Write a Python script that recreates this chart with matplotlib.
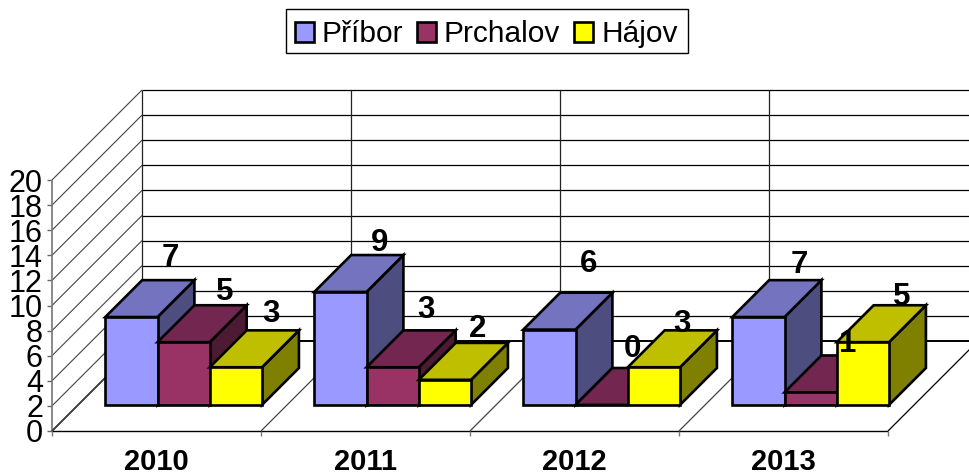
import matplotlib
matplotlib.use('Agg')
import matplotlib.pyplot as plt
from matplotlib.patches import Rectangle

plt.rcParams['font.family'] = ['Liberation Sans', 'DejaVu Sans']

years = ['2010', '2011', '2012', '2013']
pribor = [7, 9, 6, 7]
prchalov = [5, 3, 0, 1]
hajov = [3, 2, 3, 5]
series_names = ['Příbor', 'Prchalov', 'Hájov']
y_ticks = list(range(0, 21, 2))

# face colours per series: front, top, side
colors = [('#9999FF', '#7373BF', '#4D4D80'),
          ('#993366', '#732650', '#4D1A33'),
          ('#FFFF00', '#BFBF00', '#808000')]

# label nudges per series and year, on top of the default offset
nudge_x = [[1, 1, 1, 3], [3, -5, -7, -1], [-3, -5, -10, 1]]
nudge_y = [[-8, 3, -14, -1], [1, -6, -4, 3], [-2, 1, 8, 6]]

# chart geometry in pixels
X0, Y0 = 52, 431
CAT_W = 209
UNIT = 12.55
DEPTH = 90
GAP = 0.13
BAR_W = 0.25
D_FRONT, D_BACK = 0.29, 0.70


def proj(cat, value, depth=0.0):
    """Map category position, value and depth to pixel coordinates."""
    return X0 + cat * CAT_W + depth * DEPTH, Y0 - value * UNIT - depth * DEPTH


def draw_bar(ax, left, value, faces):
    right = left + BAR_W
    front = [proj(left, 0, D_FRONT), proj(right, 0, D_FRONT),
             proj(right, value, D_FRONT), proj(left, value, D_FRONT)]
    top = [proj(left, value, D_FRONT), proj(right, value, D_FRONT),
           proj(right, value, D_BACK), proj(left, value, D_BACK)]
    side = [proj(right, 0, D_FRONT), proj(right, 0, D_BACK),
            proj(right, value, D_BACK), proj(right, value, D_FRONT)]
    for poly, color in zip([side, top, front], [faces[2], faces[1], faces[0]]):
        ax.fill(*zip(*poly), facecolor=color, edgecolor='black', linewidth=1.9,
                joinstyle='miter', zorder=3)


def line(ax, a, b, color='#333333', lw=0.8):
    ax.plot([a[0], b[0]], [a[1], b[1]], color=color, lw=lw,
            solid_capstyle='butt', zorder=1)


fig = plt.figure(figsize=(9.7, 4.76), dpi=100)
ax = fig.add_axes([0, 0, 1, 1])
ax.set_xlim(0, 970)
ax.set_ylim(476, 0)
ax.axis('off')

n = len(years)

# walls
for v in y_ticks:
    line(ax, proj(0, v), proj(0, v, 1), '#444444')
    line(ax, proj(0, v, 1), proj(n, v, 1), 'black', 1.4 if v == 0 else 0.9)
    px, py = proj(0, v)
    line(ax, (px - 5, py), (px, py), '#666666', 1.0)
    ax.text(px - 9, py, str(v), ha='right', va='center_baseline', fontsize=22, color='black')
line(ax, proj(0, 0), proj(0, 20), '#777777', 1.2)

# floor
line(ax, proj(0, 0), proj(n, 0), 'black', 1.0)
line(ax, proj(0, 0), proj(0, 0, 1), 'black', 1.0)
for i in range(n + 1):
    line(ax, proj(i, 0), proj(i, 0, 1), 'black' if i == n else '#444444', 0.9)
    line(ax, proj(i, 20, 1), proj(i, 0, 1), '#222222', 0.9)
    px, py = proj(i, 0)
    line(ax, (px, py), (px, py + 5), '#777777', 1.0)

# bars
series = [pribor, prchalov, hajov]
for i, year in enumerate(years):
    for s, values in enumerate(series):
        draw_bar(ax, i + GAP + s * BAR_W, values[i], colors[s])
    px, py = proj(i + 0.5, 0)
    ax.text(px, py + 28, year, ha='center', va='center_baseline',
            fontsize=21, fontweight='bold', color='black')

# value labels
for s, values in enumerate(series):
    for i, v in enumerate(values):
        px, py = proj(i + GAP + (s + 0.5) * BAR_W, v, D_FRONT)
        ax.text(px + 38 + nudge_x[s][i], py - 55 + nudge_y[s][i], str(v),
                ha='center', va='center_baseline', fontsize=22.5,
                fontweight='bold', color='black', zorder=5)

# legend
ax.add_patch(Rectangle((286, 9), 402, 44, facecolor='white', edgecolor='black',
                       linewidth=1.0, zorder=4))
swatch_x = [295, 417, 574]
text_x = [322, 444, 602]
for name, sx, tx, faces in zip(series_names, swatch_x, text_x, colors):
    ax.add_patch(Rectangle((sx, 22), 19, 19.5, facecolor=faces[0], edgecolor='black',
                           linewidth=1.9, zorder=5))
    ax.text(tx, 41.7, name, ha='left', va='baseline', fontsize=21.5, color='black', zorder=5)

fig.savefig('out.png', dpi=100)
